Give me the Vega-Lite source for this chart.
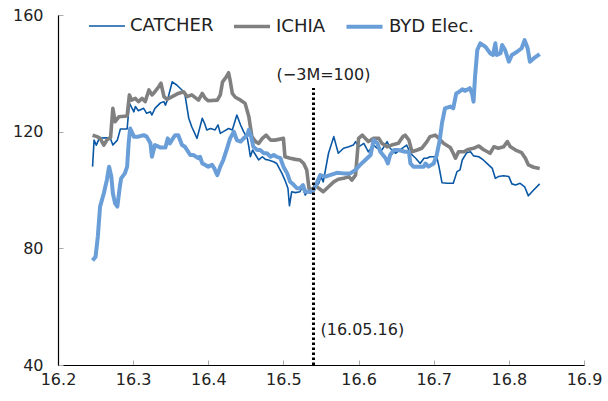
{
"$schema":"https://vega.github.io/schema/vega-lite/v6.json",
"width":526,"height":350,
"autosize":{"type":"none"},
"padding":{"left":58,"top":15,"right":24,"bottom":36},
"background":"white",
"config":{"view":{"stroke":null},"font":"DejaVu Sans"},
"datasets":{
"series":[
{"s":"CATCHER","x":16.246,"y":108.0},{"s":"CATCHER","x":16.248,"y":117.1},{"s":"CATCHER","x":16.251,"y":115.4},{"s":"CATCHER","x":16.253,"y":116.6},{"s":"CATCHER","x":16.255,"y":117.8},{"s":"CATCHER","x":16.265,"y":117.9},{"s":"CATCHER","x":16.270,"y":117.5},{"s":"CATCHER","x":16.273,"y":115.4},{"s":"CATCHER","x":16.279,"y":117.1},{"s":"CATCHER","x":16.283,"y":120.9},{"s":"CATCHER","x":16.292,"y":120.9},{"s":"CATCHER","x":16.295,"y":129.8},{"s":"CATCHER","x":16.301,"y":126.8},{"s":"CATCHER","x":16.303,"y":128.6},{"s":"CATCHER","x":16.307,"y":127.2},{"s":"CATCHER","x":16.314,"y":128.0},{"s":"CATCHER","x":16.318,"y":126.3},{"s":"CATCHER","x":16.323,"y":126.8},{"s":"CATCHER","x":16.325,"y":125.7},{"s":"CATCHER","x":16.329,"y":128.0},{"s":"CATCHER","x":16.336,"y":129.8},{"s":"CATCHER","x":16.341,"y":130.3},{"s":"CATCHER","x":16.343,"y":129.1},{"s":"CATCHER","x":16.346,"y":131.1},{"s":"CATCHER","x":16.352,"y":137.1},{"s":"CATCHER","x":16.358,"y":136.0},{"s":"CATCHER","x":16.365,"y":134.3},{"s":"CATCHER","x":16.369,"y":132.6},{"s":"CATCHER","x":16.374,"y":124.6},{"s":"CATCHER","x":16.378,"y":121.7},{"s":"CATCHER","x":16.385,"y":117.7},{"s":"CATCHER","x":16.392,"y":124.6},{"s":"CATCHER","x":16.395,"y":122.9},{"s":"CATCHER","x":16.398,"y":120.6},{"s":"CATCHER","x":16.403,"y":121.1},{"s":"CATCHER","x":16.409,"y":120.6},{"s":"CATCHER","x":16.413,"y":122.3},{"s":"CATCHER","x":16.416,"y":119.4},{"s":"CATCHER","x":16.420,"y":120.0},{"s":"CATCHER","x":16.427,"y":121.1},{"s":"CATCHER","x":16.432,"y":120.6},{"s":"CATCHER","x":16.438,"y":125.7},{"s":"CATCHER","x":16.443,"y":122.3},{"s":"CATCHER","x":16.447,"y":120.0},{"s":"CATCHER","x":16.452,"y":117.7},{"s":"CATCHER","x":16.454,"y":114.8},{"s":"CATCHER","x":16.456,"y":111.4},{"s":"CATCHER","x":16.459,"y":113.7},{"s":"CATCHER","x":16.463,"y":112.0},{"s":"CATCHER","x":16.467,"y":110.3},{"s":"CATCHER","x":16.472,"y":111.4},{"s":"CATCHER","x":16.476,"y":110.5},{"s":"CATCHER","x":16.480,"y":110.3},{"s":"CATCHER","x":16.487,"y":109.7},{"s":"CATCHER","x":16.491,"y":109.1},{"s":"CATCHER","x":16.498,"y":105.7},{"s":"CATCHER","x":16.502,"y":103.4},{"s":"CATCHER","x":16.506,"y":100.6},{"s":"CATCHER","x":16.508,"y":94.6},{"s":"CATCHER","x":16.511,"y":99.4},{"s":"CATCHER","x":16.516,"y":99.1},{"s":"CATCHER","x":16.522,"y":99.4},{"s":"CATCHER","x":16.525,"y":101.1},{"s":"CATCHER","x":16.529,"y":98.3},{"s":"CATCHER","x":16.532,"y":99.4},{"s":"CATCHER","x":16.536,"y":98.9},{"s":"CATCHER","x":16.540,"y":100},{"s":"CATCHER","x":16.547,"y":102.3},{"s":"CATCHER","x":16.550,"y":104.6},{"s":"CATCHER","x":16.553,"y":102.8},{"s":"CATCHER","x":16.560,"y":112.6},{"s":"CATCHER","x":16.567,"y":118.3},{"s":"CATCHER","x":16.573,"y":112.6},{"s":"CATCHER","x":16.580,"y":114.3},{"s":"CATCHER","x":16.587,"y":114.8},{"s":"CATCHER","x":16.593,"y":115.4},{"s":"CATCHER","x":16.596,"y":116.6},{"s":"CATCHER","x":16.600,"y":114.8},{"s":"CATCHER","x":16.607,"y":116.0},{"s":"CATCHER","x":16.613,"y":113.1},{"s":"CATCHER","x":16.620,"y":115.4},{"s":"CATCHER","x":16.625,"y":114.3},{"s":"CATCHER","x":16.631,"y":113.7},{"s":"CATCHER","x":16.638,"y":116.6},{"s":"CATCHER","x":16.642,"y":114.3},{"s":"CATCHER","x":16.649,"y":112.6},{"s":"CATCHER","x":16.658,"y":114.3},{"s":"CATCHER","x":16.664,"y":115.4},{"s":"CATCHER","x":16.669,"y":112.6},{"s":"CATCHER","x":16.676,"y":110.9},{"s":"CATCHER","x":16.682,"y":109.1},{"s":"CATCHER","x":16.687,"y":110.9},{"s":"CATCHER","x":16.691,"y":110.9},{"s":"CATCHER","x":16.695,"y":111.4},{"s":"CATCHER","x":16.704,"y":111.4},{"s":"CATCHER","x":16.707,"y":108.0},{"s":"CATCHER","x":16.711,"y":102.5},{"s":"CATCHER","x":16.718,"y":102.3},{"s":"CATCHER","x":16.726,"y":102.3},{"s":"CATCHER","x":16.731,"y":106.3},{"s":"CATCHER","x":16.735,"y":106.9},{"s":"CATCHER","x":16.738,"y":110.3},{"s":"CATCHER","x":16.744,"y":112.8},{"s":"CATCHER","x":16.749,"y":113.1},{"s":"CATCHER","x":16.753,"y":111.7},{"s":"CATCHER","x":16.760,"y":111.4},{"s":"CATCHER","x":16.766,"y":110.3},{"s":"CATCHER","x":16.773,"y":108.6},{"s":"CATCHER","x":16.778,"y":107.4},{"s":"CATCHER","x":16.782,"y":104.0},{"s":"CATCHER","x":16.786,"y":104.6},{"s":"CATCHER","x":16.793,"y":104.9},{"s":"CATCHER","x":16.800,"y":104.6},{"s":"CATCHER","x":16.804,"y":102.1},{"s":"CATCHER","x":16.809,"y":101.7},{"s":"CATCHER","x":16.815,"y":102.3},{"s":"CATCHER","x":16.821,"y":101.1},{"s":"CATCHER","x":16.826,"y":98.0},{"s":"CATCHER","x":16.833,"y":100.0},{"s":"CATCHER","x":16.841,"y":102.1},
{"s":"ICHIA","x":16.246,"y":118.8},{"s":"ICHIA","x":16.252,"y":118.3},{"s":"ICHIA","x":16.256,"y":117.7},{"s":"ICHIA","x":16.261,"y":115.4},{"s":"ICHIA","x":16.265,"y":117.1},{"s":"ICHIA","x":16.270,"y":118.1},{"s":"ICHIA","x":16.273,"y":128.0},{"s":"ICHIA","x":16.276,"y":123.4},{"s":"ICHIA","x":16.281,"y":125.1},{"s":"ICHIA","x":16.292,"y":125.4},{"s":"ICHIA","x":16.295,"y":132.6},{"s":"ICHIA","x":16.298,"y":130.8},{"s":"ICHIA","x":16.303,"y":131.4},{"s":"ICHIA","x":16.307,"y":130.3},{"s":"ICHIA","x":16.312,"y":131.4},{"s":"ICHIA","x":16.316,"y":130.3},{"s":"ICHIA","x":16.321,"y":134.3},{"s":"ICHIA","x":16.325,"y":132.6},{"s":"ICHIA","x":16.329,"y":133.7},{"s":"ICHIA","x":16.334,"y":135.4},{"s":"ICHIA","x":16.337,"y":136.6},{"s":"ICHIA","x":16.341,"y":132.0},{"s":"ICHIA","x":16.345,"y":131.1},{"s":"ICHIA","x":16.352,"y":132.0},{"s":"ICHIA","x":16.360,"y":133.1},{"s":"ICHIA","x":16.367,"y":133.7},{"s":"ICHIA","x":16.372,"y":132.0},{"s":"ICHIA","x":16.378,"y":132.6},{"s":"ICHIA","x":16.387,"y":130.8},{"s":"ICHIA","x":16.392,"y":133.1},{"s":"ICHIA","x":16.396,"y":131.4},{"s":"ICHIA","x":16.400,"y":130.6},{"s":"ICHIA","x":16.412,"y":130.8},{"s":"ICHIA","x":16.416,"y":132.6},{"s":"ICHIA","x":16.419,"y":137.1},{"s":"ICHIA","x":16.424,"y":138.8},{"s":"ICHIA","x":16.427,"y":140.2},{"s":"ICHIA","x":16.429,"y":137.7},{"s":"ICHIA","x":16.432,"y":133.1},{"s":"ICHIA","x":16.436,"y":131.8},{"s":"ICHIA","x":16.443,"y":130.8},{"s":"ICHIA","x":16.449,"y":129.7},{"s":"ICHIA","x":16.454,"y":125.1},{"s":"ICHIA","x":16.458,"y":118.3},{"s":"ICHIA","x":16.463,"y":116.6},{"s":"ICHIA","x":16.467,"y":116.0},{"s":"ICHIA","x":16.472,"y":117.7},{"s":"ICHIA","x":16.477,"y":118.8},{"s":"ICHIA","x":16.483,"y":117.1},{"s":"ICHIA","x":16.489,"y":117.1},{"s":"ICHIA","x":16.500,"y":117.7},{"s":"ICHIA","x":16.502,"y":111.4},{"s":"ICHIA","x":16.509,"y":110.9},{"s":"ICHIA","x":16.516,"y":110.5},{"s":"ICHIA","x":16.522,"y":110.3},{"s":"ICHIA","x":16.527,"y":109.1},{"s":"ICHIA","x":16.531,"y":106.9},{"s":"ICHIA","x":16.534,"y":100.6},{"s":"ICHIA","x":16.540,"y":100},{"s":"ICHIA","x":16.542,"y":101.7},{"s":"ICHIA","x":16.547,"y":100.6},{"s":"ICHIA","x":16.553,"y":99.4},{"s":"ICHIA","x":16.560,"y":101.1},{"s":"ICHIA","x":16.567,"y":102.8},{"s":"ICHIA","x":16.573,"y":103.7},{"s":"ICHIA","x":16.580,"y":104.0},{"s":"ICHIA","x":16.587,"y":104.6},{"s":"ICHIA","x":16.591,"y":103.4},{"s":"ICHIA","x":16.596,"y":105.1},{"s":"ICHIA","x":16.600,"y":117.7},{"s":"ICHIA","x":16.605,"y":118.8},{"s":"ICHIA","x":16.613,"y":116.6},{"s":"ICHIA","x":16.620,"y":117.7},{"s":"ICHIA","x":16.627,"y":117.7},{"s":"ICHIA","x":16.631,"y":116.0},{"s":"ICHIA","x":16.638,"y":114.8},{"s":"ICHIA","x":16.644,"y":115.4},{"s":"ICHIA","x":16.653,"y":116.0},{"s":"ICHIA","x":16.659,"y":118.3},{"s":"ICHIA","x":16.662,"y":118.8},{"s":"ICHIA","x":16.667,"y":117.1},{"s":"ICHIA","x":16.671,"y":113.1},{"s":"ICHIA","x":16.678,"y":113.7},{"s":"ICHIA","x":16.684,"y":114.3},{"s":"ICHIA","x":16.691,"y":116.6},{"s":"ICHIA","x":16.695,"y":118.3},{"s":"ICHIA","x":16.702,"y":118.8},{"s":"ICHIA","x":16.707,"y":117.7},{"s":"ICHIA","x":16.713,"y":116.0},{"s":"ICHIA","x":16.722,"y":114.6},{"s":"ICHIA","x":16.726,"y":112.6},{"s":"ICHIA","x":16.729,"y":110.9},{"s":"ICHIA","x":16.733,"y":113.1},{"s":"ICHIA","x":16.740,"y":113.1},{"s":"ICHIA","x":16.746,"y":113.9},{"s":"ICHIA","x":16.753,"y":114.3},{"s":"ICHIA","x":16.760,"y":115.1},{"s":"ICHIA","x":16.766,"y":113.9},{"s":"ICHIA","x":16.775,"y":112.6},{"s":"ICHIA","x":16.780,"y":114.8},{"s":"ICHIA","x":16.786,"y":114.3},{"s":"ICHIA","x":16.793,"y":114.8},{"s":"ICHIA","x":16.798,"y":116.6},{"s":"ICHIA","x":16.802,"y":114.8},{"s":"ICHIA","x":16.809,"y":113.7},{"s":"ICHIA","x":16.817,"y":112.8},{"s":"ICHIA","x":16.822,"y":110.9},{"s":"ICHIA","x":16.826,"y":108.6},{"s":"ICHIA","x":16.833,"y":107.8},{"s":"ICHIA","x":16.841,"y":107.4},
{"s":"BYD Elec.","x":16.246,"y":75.8},{"s":"BYD Elec.","x":16.250,"y":77.1},{"s":"BYD Elec.","x":16.253,"y":84.0},{"s":"BYD Elec.","x":16.256,"y":94.3},{"s":"BYD Elec.","x":16.261,"y":98.9},{"s":"BYD Elec.","x":16.265,"y":103.4},{"s":"BYD Elec.","x":16.268,"y":108.0},{"s":"BYD Elec.","x":16.271,"y":104.6},{"s":"BYD Elec.","x":16.273,"y":98.9},{"s":"BYD Elec.","x":16.276,"y":95.4},{"s":"BYD Elec.","x":16.279,"y":94.3},{"s":"BYD Elec.","x":16.282,"y":100.6},{"s":"BYD Elec.","x":16.284,"y":104.0},{"s":"BYD Elec.","x":16.289,"y":105.7},{"s":"BYD Elec.","x":16.292,"y":108.0},{"s":"BYD Elec.","x":16.294,"y":116.0},{"s":"BYD Elec.","x":16.296,"y":121.1},{"s":"BYD Elec.","x":16.301,"y":118.3},{"s":"BYD Elec.","x":16.307,"y":118.3},{"s":"BYD Elec.","x":16.314,"y":118.8},{"s":"BYD Elec.","x":16.318,"y":118.3},{"s":"BYD Elec.","x":16.323,"y":116.0},{"s":"BYD Elec.","x":16.325,"y":111.4},{"s":"BYD Elec.","x":16.329,"y":115.4},{"s":"BYD Elec.","x":16.336,"y":114.6},{"s":"BYD Elec.","x":16.343,"y":114.6},{"s":"BYD Elec.","x":16.346,"y":117.7},{"s":"BYD Elec.","x":16.349,"y":116.0},{"s":"BYD Elec.","x":16.353,"y":117.7},{"s":"BYD Elec.","x":16.356,"y":118.8},{"s":"BYD Elec.","x":16.360,"y":118.8},{"s":"BYD Elec.","x":16.365,"y":115.4},{"s":"BYD Elec.","x":16.369,"y":114.8},{"s":"BYD Elec.","x":16.376,"y":112.0},{"s":"BYD Elec.","x":16.380,"y":112.0},{"s":"BYD Elec.","x":16.387,"y":110.9},{"s":"BYD Elec.","x":16.389,"y":111.4},{"s":"BYD Elec.","x":16.392,"y":109.1},{"s":"BYD Elec.","x":16.396,"y":108.6},{"s":"BYD Elec.","x":16.400,"y":108.0},{"s":"BYD Elec.","x":16.405,"y":108.6},{"s":"BYD Elec.","x":16.408,"y":107.4},{"s":"BYD Elec.","x":16.412,"y":105.1},{"s":"BYD Elec.","x":16.416,"y":108.0},{"s":"BYD Elec.","x":16.420,"y":110.3},{"s":"BYD Elec.","x":16.425,"y":114.3},{"s":"BYD Elec.","x":16.429,"y":117.7},{"s":"BYD Elec.","x":16.434,"y":120.0},{"s":"BYD Elec.","x":16.438,"y":117.1},{"s":"BYD Elec.","x":16.443,"y":116.6},{"s":"BYD Elec.","x":16.447,"y":117.7},{"s":"BYD Elec.","x":16.452,"y":118.8},{"s":"BYD Elec.","x":16.454,"y":120.6},{"s":"BYD Elec.","x":16.457,"y":118.3},{"s":"BYD Elec.","x":16.460,"y":114.8},{"s":"BYD Elec.","x":16.465,"y":113.7},{"s":"BYD Elec.","x":16.469,"y":113.7},{"s":"BYD Elec.","x":16.474,"y":112.6},{"s":"BYD Elec.","x":16.478,"y":112.6},{"s":"BYD Elec.","x":16.483,"y":111.4},{"s":"BYD Elec.","x":16.487,"y":112.0},{"s":"BYD Elec.","x":16.491,"y":111.4},{"s":"BYD Elec.","x":16.496,"y":110.9},{"s":"BYD Elec.","x":16.500,"y":108.0},{"s":"BYD Elec.","x":16.505,"y":105.7},{"s":"BYD Elec.","x":16.509,"y":102.8},{"s":"BYD Elec.","x":16.514,"y":101.7},{"s":"BYD Elec.","x":16.518,"y":100.6},{"s":"BYD Elec.","x":16.522,"y":100.6},{"s":"BYD Elec.","x":16.526,"y":101.7},{"s":"BYD Elec.","x":16.529,"y":99.4},{"s":"BYD Elec.","x":16.536,"y":99.4},{"s":"BYD Elec.","x":16.540,"y":100},{"s":"BYD Elec.","x":16.545,"y":102.8},{"s":"BYD Elec.","x":16.549,"y":105.1},{"s":"BYD Elec.","x":16.556,"y":104.6},{"s":"BYD Elec.","x":16.562,"y":105.1},{"s":"BYD Elec.","x":16.571,"y":105.9},{"s":"BYD Elec.","x":16.580,"y":105.7},{"s":"BYD Elec.","x":16.589,"y":105.7},{"s":"BYD Elec.","x":16.596,"y":106.9},{"s":"BYD Elec.","x":16.602,"y":108.6},{"s":"BYD Elec.","x":16.609,"y":110.3},{"s":"BYD Elec.","x":16.616,"y":112.0},{"s":"BYD Elec.","x":16.620,"y":117.1},{"s":"BYD Elec.","x":16.625,"y":116.0},{"s":"BYD Elec.","x":16.629,"y":113.1},{"s":"BYD Elec.","x":16.636,"y":110.9},{"s":"BYD Elec.","x":16.639,"y":109.1},{"s":"BYD Elec.","x":16.642,"y":112.0},{"s":"BYD Elec.","x":16.647,"y":113.7},{"s":"BYD Elec.","x":16.653,"y":113.7},{"s":"BYD Elec.","x":16.662,"y":113.1},{"s":"BYD Elec.","x":16.667,"y":113.1},{"s":"BYD Elec.","x":16.669,"y":109.1},{"s":"BYD Elec.","x":16.673,"y":108.0},{"s":"BYD Elec.","x":16.680,"y":108.0},{"s":"BYD Elec.","x":16.687,"y":108.0},{"s":"BYD Elec.","x":16.689,"y":109.1},{"s":"BYD Elec.","x":16.693,"y":108.0},{"s":"BYD Elec.","x":16.700,"y":109.1},{"s":"BYD Elec.","x":16.704,"y":112.0},{"s":"BYD Elec.","x":16.708,"y":117.1},{"s":"BYD Elec.","x":16.711,"y":122.9},{"s":"BYD Elec.","x":16.715,"y":128.0},{"s":"BYD Elec.","x":16.722,"y":128.6},{"s":"BYD Elec.","x":16.726,"y":128.0},{"s":"BYD Elec.","x":16.730,"y":133.1},{"s":"BYD Elec.","x":16.734,"y":133.7},{"s":"BYD Elec.","x":16.738,"y":134.5},{"s":"BYD Elec.","x":16.742,"y":134.0},{"s":"BYD Elec.","x":16.748,"y":134.9},{"s":"BYD Elec.","x":16.751,"y":133.1},{"s":"BYD Elec.","x":16.753,"y":130.3},{"s":"BYD Elec.","x":16.755,"y":138.8},{"s":"BYD Elec.","x":16.758,"y":148.0},{"s":"BYD Elec.","x":16.762,"y":150.3},{"s":"BYD Elec.","x":16.769,"y":149.1},{"s":"BYD Elec.","x":16.775,"y":146.9},{"s":"BYD Elec.","x":16.779,"y":146.3},{"s":"BYD Elec.","x":16.782,"y":150.3},{"s":"BYD Elec.","x":16.784,"y":146.3},{"s":"BYD Elec.","x":16.789,"y":146.9},{"s":"BYD Elec.","x":16.791,"y":149.7},{"s":"BYD Elec.","x":16.795,"y":148.0},{"s":"BYD Elec.","x":16.800,"y":144.0},{"s":"BYD Elec.","x":16.804,"y":146.3},{"s":"BYD Elec.","x":16.811,"y":147.4},{"s":"BYD Elec.","x":16.817,"y":148.6},{"s":"BYD Elec.","x":16.821,"y":151.4},{"s":"BYD Elec.","x":16.825,"y":148.6},{"s":"BYD Elec.","x":16.828,"y":144.0},{"s":"BYD Elec.","x":16.833,"y":145.1},{"s":"BYD Elec.","x":16.841,"y":146.6}
]
},
"layer":[
{"data":{"name":"series"},
 "mark":{"type":"line","strokeJoin":"round","strokeCap":"butt"},
 "encoding":{
  "x":{"field":"x","type":"quantitative","scale":{"domain":[16.2,16.9],"nice":false,"zero":false},
       "axis":{"values":[16.2,16.3,16.4,16.5,16.6,16.7,16.8,16.9],"format":".1f","title":null,"grid":false,
               "domainColor":"#000","domainWidth":1.2,"tickColor":"#aaaaaa","tickSize":-5,"labelPadding":11,
               "labelFontSize":16,"labelColor":"#222","labelFont":"DejaVu Sans","labelFlush":false,"labelBaseline":"top"}},
  "y":{"field":"y","type":"quantitative","scale":{"domain":[40,160],"nice":false,"zero":false},
       "axis":{"values":[40,80,120,160],"title":null,"grid":false,
               "domainColor":"#000","domainWidth":1.2,"tickColor":"#aaaaaa","tickSize":-5,"labelPadding":20,
               "labelFontSize":16,"labelColor":"#222","labelFont":"DejaVu Sans","labelBaseline":"middle"}},
  "color":{"field":"s","type":"nominal",
       "scale":{"domain":["CATCHER","ICHIA","BYD Elec."],"range":["#0A58A5","#808080","#6A9ED8"]},
       "legend":{"orient":"none","legendX":30,"legendY":-9,"direction":"horizontal","title":null,
                 "symbolType":"stroke","symbolSize":1300,"labelFontSize":18,"labelColor":"#222","labelFont":"DejaVu Sans",
                 "labelOffset":4,"columnPadding":12}},
  "strokeWidth":{"field":"s","type":"nominal",
       "scale":{"type":"ordinal","domain":["CATCHER","ICHIA","BYD Elec."],"range":[1.6,3.6,4]},
       "legend":{"orient":"none","legendX":30,"legendY":-9,"direction":"horizontal","title":null,
                 "symbolType":"stroke","symbolSize":1300,"labelFontSize":18,"labelColor":"#222","labelFont":"DejaVu Sans",
                 "labelOffset":4,"columnPadding":12}}
 }},
{"data":{"values":[{"x":16.54,"y":40,"y2":135}]},
 "mark":{"type":"rule","color":"#000","strokeWidth":3,"strokeDash":[2.5,2.5]},
 "encoding":{"x":{"field":"x","type":"quantitative"},"y":{"field":"y","type":"quantitative"},"y2":{"field":"y2"}}},
{"data":{"values":[{"x":16.54,"y":139.4,"label":"(−3M=100)"}]},
 "mark":{"type":"text","align":"center","baseline":"middle","dx":10,"fontSize":16,"font":"DejaVu Sans","color":"#222"},
 "encoding":{"x":{"field":"x","type":"quantitative"},"y":{"field":"y","type":"quantitative"},"text":{"field":"label"}}},
{"data":{"values":[{"x":16.54,"y":52,"label":"(16.05.16)"}]},
 "mark":{"type":"text","align":"left","baseline":"middle","dx":7,"fontSize":16,"font":"DejaVu Sans","color":"#222"},
 "encoding":{"x":{"field":"x","type":"quantitative"},"y":{"field":"y","type":"quantitative"},"text":{"field":"label"}}}
]
}
